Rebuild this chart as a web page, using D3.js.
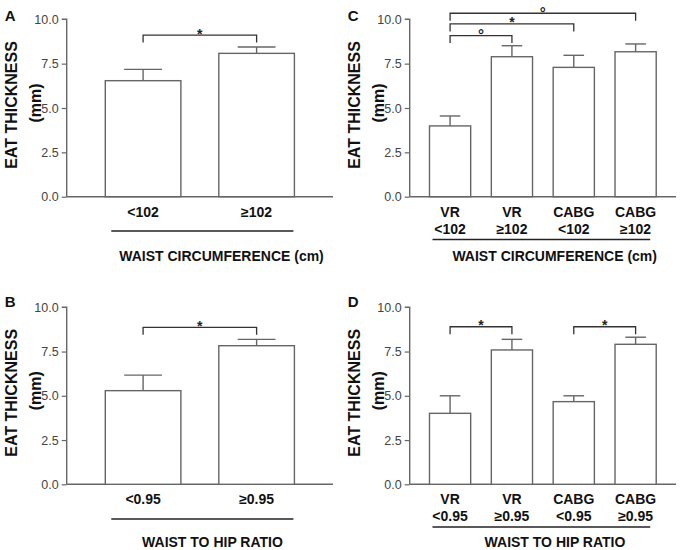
<!DOCTYPE html>
<html>
<head>
<meta charset="utf-8">
<script src="https://cdn.jsdelivr.net/npm/d3@7"></script>
<style>
  html, body { margin: 0; padding: 0; background: #fff; }
  svg { display: block; font-family: Arial, "Liberation Sans", sans-serif; }
</style>
</head>
<body>
<div id="chart"></div>
<script>
// ---- data ----
const yTicks = [0, 2.5, 5, 7.5, 10];

const wcCats2 = ["<102", "≥102"];
const wcMean2 = [6.54, 8.08];
const wcErr2 = [7.18, 8.44];

const wcGroup4 = ["VR", "VR", "CABG", "CABG"];
const wcCats4 = ["<102", "≥102", "<102", "≥102"];
const wcMean4 = [3.99, 7.89, 7.29, 8.17];
const wcErr4 = [4.55, 8.51, 7.97, 8.61];

const whrCats2 = ["<0.95", "≥0.95"];
const whrMean2 = [5.29, 7.83];
const whrErr2 = [6.17, 8.19];

const whrGroup4 = ["VR", "VR", "CABG", "CABG"];
const whrCats4 = ["<0.95", "≥0.95", "<0.95", "≥0.95"];
const whrMean4 = [4.01, 7.59, 4.67, 7.91];
const whrErr4 = [5.0, 8.19, 5.0, 8.31];

// brackets: [from, to, level, mark]
const sigA = [[0, 1, 9.11, "*"]];
const sigC = [[0, 1, 9.08, "°"], [0, 2, 9.74, "*"], [0, 3, 10.34, "°"]];
const sigB = [[0, 1, 8.87, "*"]];
const sigD = [[0, 1, 8.9, "*"], [2, 3, 8.9, "*"]];

const W = 686, H = 550;
const svg = d3.select("#chart").append("svg").attr("width", W).attr("height", H);

const grey = "#666";
const font = "Arial, 'Liberation Sans', sans-serif";

function panel(o) {
  const g = svg.append("g");
  const n = o.means.length;
  const keys = d3.range(n);

  const y = d3.scaleLinear().domain([0, 10]).range([o.y0, o.y1]);
  const x = d3.scaleBand().domain(keys).range([o.x0, o.x1])
    .paddingInner(0.334).paddingOuter(n === 2 ? 0.34 : 0.32);
  const bw = x.bandwidth();

  // y axis
  const ax = g.append("g").attr("transform", `translate(${o.x0},0)`)
    .call(d3.axisLeft(y).tickValues(yTicks).tickFormat(d3.format(".1f")).tickSize(5).tickPadding(3));
  ax.select(".domain").attr("stroke", grey).attr("stroke-width", 1.4).attr("d", `M-5,${y(10)}H0V${y(0)}`);
  ax.selectAll(".tick line").attr("stroke", grey).attr("stroke-width", 1.2);
  ax.selectAll(".tick text").attr("fill", "#444").style("font-size", "12.5px").style("font-family", font);
  ax.selectAll(".tick").filter(d => d === 10).select("line").remove();

  // x baseline
  g.append("line").attr("x1", o.x0).attr("x2", o.x1)
    .attr("y1", y(0)).attr("y2", y(0)).attr("stroke", grey).attr("stroke-width", 1.4);

  // bars
  g.append("g").selectAll("rect").data(keys).join("rect")
    .attr("x", i => x(i)).attr("width", bw)
    .attr("y", i => y(o.means[i])).attr("height", i => y(0) - y(o.means[i]))
    .attr("fill", "#fff").attr("stroke", grey).attr("stroke-width", 1.4);

  // error bars (upper only)
  const eb = g.append("g").attr("stroke", grey).attr("stroke-width", 1.4);
  eb.selectAll("line.v").data(keys).join("line").attr("class", "v")
    .attr("x1", i => x(i) + bw / 2).attr("x2", i => x(i) + bw / 2)
    .attr("y1", i => y(o.means[i])).attr("y2", i => y(o.errs[i]));
  eb.selectAll("line.c").data(keys).join("line").attr("class", "c")
    .attr("x1", i => x(i) + bw / 4).attr("x2", i => x(i) + bw * 3 / 4)
    .attr("y1", i => y(o.errs[i])).attr("y2", i => y(o.errs[i]));

  // significance brackets
  const leg = 7.5;
  o.sig.forEach(([a, b, lv, mark]) => {
    const xa = x(a) + bw / 2, xb = x(b) + bw / 2, yy = y(lv);
    g.append("path")
      .attr("d", `M${xa},${yy + leg}V${yy}H${xb}V${yy + leg}`)
      .attr("fill", "none").attr("stroke", "#333").attr("stroke-width", 1.3);
    g.append("text").attr("x", (xa + xb) / 2).attr("y", mark === "*" ? yy + 3.5 : yy + 4.5)
      .attr("text-anchor", "middle").attr("font-weight", "bold")
      .style("font-size", mark === "*" ? "14px" : "15px").attr("fill", "#222").text(mark);
  });

  // category labels
  const cl = g.append("g").attr("font-weight", "bold").style("font-size", "14px")
    .attr("fill", "#111").attr("text-anchor", "middle");
  if (o.groups) {
    cl.selectAll("text.g").data(keys).join("text").attr("class", "g")
      .attr("x", i => x(i) + bw / 2).attr("y", o.catY - 17).text(i => o.groups[i]);
  }
  cl.selectAll("text.c").data(keys).join("text").attr("class", "c")
    .attr("x", i => x(i) + bw / 2).attr("y", o.catY).text(i => o.cats[i]);

  // underline for the group
  g.append("line")
    .attr("x1", x(0) + (n === 2 ? 6 : 3)).attr("x2", x(n - 1) + bw - (n === 2 ? 1 : 6))
    .attr("y1", o.lineY).attr("y2", o.lineY).attr("stroke", "#222").attr("stroke-width", 1.5);

  g.append("text").attr("x", o.titleX).attr("y", o.titleY).attr("text-anchor", "middle")
    .attr("font-weight", "bold").style("font-size", "14px").attr("fill", "#111").text(o.title);

  // y label
  const ym = (o.y0 + o.y1) / 2;
  g.append("text").attr("transform", `translate(${o.x0 - 55},${ym - 3}) rotate(-90)`)
    .attr("text-anchor", "middle").attr("dy", "0.35em").attr("font-weight", "bold")
    .style("font-size", "16px").attr("fill", "#111").text("EAT THICKNESS");
  g.append("text").attr("transform", `translate(${o.x0 - 31},${ym - 5}) rotate(-90)`)
    .attr("text-anchor", "middle").attr("dy", "0.35em").attr("font-weight", "bold")
    .style("font-size", "16px").attr("fill", "#111").text("(mm)");

  // panel letter
  g.append("text").attr("x", o.x0 - 62).attr("y", o.letterY).attr("font-weight", "bold")
    .style("font-size", "15px").attr("fill", "#111").text(o.letter);
}

panel({ letter: "A", letterY: 21, x0: 66.7, x1: 333, y0: 196.7, y1: 19.3,
  means: wcMean2, errs: wcErr2, cats: wcCats2, sig: sigA,
  catY: 216.5, lineY: 231, title: "WAIST CIRCUMFERENCE (cm)", titleX: 221.5, titleY: 260.5 });

panel({ letter: "C", letterY: 21, x0: 409.7, x1: 676, y0: 196.7, y1: 19.3,
  means: wcMean4, errs: wcErr4, cats: wcCats4, groups: wcGroup4, sig: sigC,
  catY: 234, lineY: 239.5, title: "WAIST CIRCUMFERENCE (cm)", titleX: 554.7, titleY: 260.5 });

panel({ letter: "B", letterY: 306.5, x0: 66.7, x1: 333, y0: 484.3, y1: 307.3,
  means: whrMean2, errs: whrErr2, cats: whrCats2, sig: sigB,
  catY: 503.5, lineY: 519, title: "WAIST TO HIP RATIO", titleX: 212.5, titleY: 546.5 });

panel({ letter: "D", letterY: 306.5, x0: 409.7, x1: 676, y0: 484.3, y1: 307.3,
  means: whrMean4, errs: whrErr4, cats: whrCats4, groups: whrGroup4, sig: sigD,
  catY: 520.5, lineY: 527, title: "WAIST TO HIP RATIO", titleX: 555, titleY: 546.5 });
</script>
</body>
</html>
